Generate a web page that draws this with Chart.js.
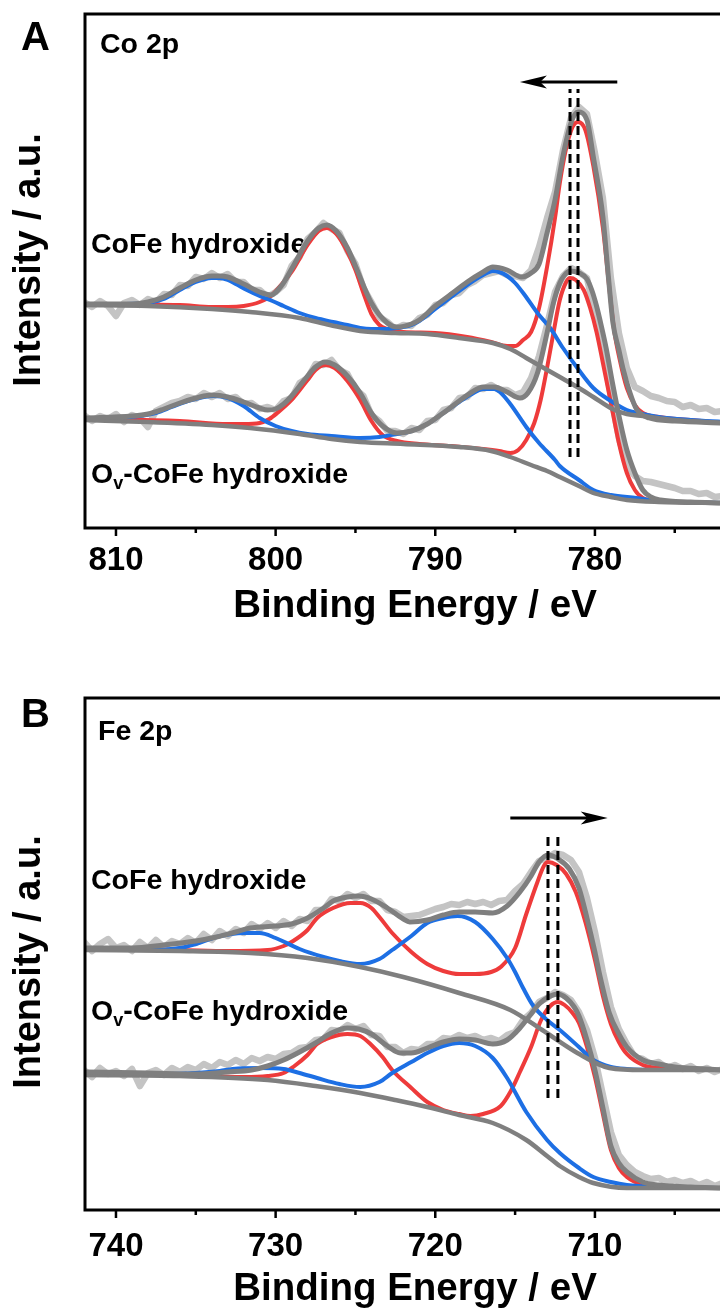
<!DOCTYPE html>
<html>
<head>
<meta charset="utf-8">
<title>XPS Co 2p / Fe 2p</title>
<script src="https://cdn.jsdelivr.net/npm/chart.js@4.4.0/dist/chart.umd.min.js"></script>
<style>
  html, body { margin: 0; padding: 0; background: #fff; overflow: hidden; }
  #page { width: 720px; height: 1313px; overflow: hidden; }
  canvas { display: block; }
</style>
</head>
<body>
<div id="page">
  <canvas id="coChart" width="745" height="650"></canvas>
  <canvas id="feChart" width="745" height="663"></canvas>
</div>
<script>
// -------------------------------
// Co 2p spectra (binding energy in eV, intensity in a.u.)
// -------------------------------
const coGrid = [812, 811.5, 811, 810.5, 810, 809.5, 809, 808.5, 808, 807.5, 807, 806.5, 806, 805.5, 805, 804.5,
  804, 803.5, 803, 802.5, 802, 801.5, 801, 800.5, 800, 799.5, 799, 798.5, 798, 797.5, 797, 796.5, 796, 795.5,
  795, 794.5, 794, 793.5, 793, 792.5, 792, 791.5, 791, 790.5, 790, 789.5, 789, 788.5, 788, 787.5, 787, 786.5,
  786, 785.5, 785, 784.5, 784, 783.5, 783, 782.5, 782, 781.5, 781, 780.5, 780, 779.5, 779, 778.5, 778, 777.5,
  777, 776.5, 776, 775.5, 775, 774.5, 774, 773.5, 773, 772.5, 772];

const coRawCoFe = [226, 221, 227, 222, 212, 225, 228, 223, 229, 226, 234, 233, 243, 242, 251, 249, 255, 250, 254,
  246, 246, 238, 238, 231, 236, 243, 262, 271, 289, 296, 305, 299, 295, 277, 264, 240, 226, 211, 206, 199, 203,
  202, 210, 213, 223, 225, 233, 235, 243, 247, 253, 255, 257, 253, 252, 250, 258, 281, 310, 336, 378, 410, 421,
  414, 375, 330, 250, 195, 160, 141, 137, 132, 130, 127, 126, 121, 123, 119, 120, 116, 117];

const coRawOv = [113, 107, 112, 109, 114, 106, 113, 110, 101, 117, 121, 125, 127, 131, 129, 135, 131, 135, 129,
  131, 124, 125, 119, 121, 118, 127, 130, 145, 150, 164, 163, 168, 158, 154, 139, 132, 113, 107, 97, 97, 94, 100,
  98, 107, 108, 118, 120, 130, 131, 140, 139, 143, 138, 138, 133, 136, 150, 172, 203, 236, 252, 260, 256, 250,
  215, 178, 132, 90, 62, 52, 47, 46, 44, 42, 40, 37, 37, 34, 35, 31, 32];

const coFitCoFe = [[812, 224], [809, 224], [808, 226], [807, 231], [806, 240], [805, 248], [804, 252], [803.5, 252],
  [803, 251], [802, 244], [801, 236], [800.3, 233], [799.6, 243], [799, 259], [798, 287], [797.3, 300], [796.8, 303],
  [796.2, 297], [795.5, 280], [795, 262], [794, 225], [793, 205], [792.4, 201], [791.5, 204], [791, 208], [790, 222],
  [789, 234], [788, 246], [787, 256], [786.4, 261], [785.5, 258], [784.6, 251], [784, 255], [783.5, 264], [783, 295],
  [782.5, 328], [782, 372], [781.5, 405], [781.06, 416], [780.5, 408], [780.1, 371], [779.5, 311], [779.15, 250],
  [778.87, 205], [778.5, 178], [778.25, 160], [777.8, 135], [777.4, 119], [776.6, 110], [775, 107], [772, 105]];

const coBgCoFe = [[812, 223], [808, 222], [804, 219], [801.6, 216], [798.5, 210], [796.6, 203], [794.7, 197],
  [792.5, 195], [790.5, 194], [788.5, 190], [786.4, 185], [785.3, 179], [784.3, 170], [783.2, 160], [782.2, 151],
  [781.1, 141], [780.1, 131], [778.9, 119], [778, 114], [777, 112], [775, 108], [772, 105]];

const coRedCoFe = [[812, 224], [806, 223], [804, 221], [803, 221], [802, 222], [801, 226], [800.3, 232], [799.5, 246],
  [799, 256], [798, 283], [797.3, 297], [796.8, 300], [796.2, 294], [795.5, 276], [795, 258], [794.5, 235], [794, 214],
  [793.5, 203], [793, 199], [792, 196], [790, 195], [788, 191], [786.5, 186], [785.5, 182], [785, 182], [784.5, 188],
  [784, 196], [783.5, 220], [783, 261], [782.5, 310], [782.2, 345], [781.8, 380], [781.4, 401], [781.06, 406],
  [780.6, 398], [780.1, 362], [779.5, 300], [779.1, 240], [778.8, 198], [778.4, 165], [778, 140], [777.5, 123],
  [777, 115], [776, 111], [774, 108], [772, 105]];

const coBlueCoFe = [[812, 224], [810, 224], [808, 225], [807, 229], [806, 238], [805, 246], [804, 250], [803.5, 250],
  [803, 248], [802.5, 244], [801.8, 238], [801, 232], [800.2, 227], [799.5, 222], [798.5, 215], [797.5, 210],
  [796.4, 206], [795.5, 203], [794.7, 200], [794, 199], [793, 199], [792.4, 200], [791.5, 203], [791, 207],
  [790, 219], [789, 231], [788, 243], [787, 253], [786.4, 257], [786, 256], [785.5, 252], [785, 245], [784.4, 233],
  [783.6, 215], [782.8, 200], [782, 180], [781.1, 160], [780.1, 140], [779, 127], [778, 118], [777, 114], [776, 111],
  [774, 108], [772, 106]];

const coFitOv = [[812, 110], [809, 112], [808, 114], [807, 119], [806, 125], [805, 130], [804.5, 132], [803.9, 133],
  [803, 131], [802, 126], [801, 120], [800.5, 118], [800, 119], [799.5, 124], [799, 132], [798.5, 142], [798, 152],
  [797.5, 161], [796.9, 166], [796.3, 163], [795.5, 152], [794.7, 135], [794, 115], [793.3, 102], [792.4, 95],
  [791.5, 97], [790.5, 104], [789.5, 115], [788.5, 127], [787.7, 136], [787, 141], [786.3, 141], [785.5, 136],
  [784.7, 130], [784.2, 135], [783.6, 155], [783, 195], [782.6, 225], [782.2, 245], [781.9, 253], [781.56, 257],
  [781, 255], [780.5, 249], [780.2, 238], [779.9, 222], [779.6, 202], [779.3, 180], [778.9, 145], [778.4, 105],
  [778, 78], [777.5, 55], [777, 38], [776.5, 31], [775.9, 28], [774, 26], [772, 25]];

const coBgOv = [[812, 108], [808, 106], [804, 103], [801.6, 100], [798.5, 94], [796.5, 89], [794.7, 86], [792, 84],
  [788.5, 81], [786.5, 77], [785.3, 71], [784, 63], [783, 57], [782.2, 51], [781, 42], [780.1, 35], [779, 31],
  [778, 28], [776, 26], [772, 25]];

const coRedOv = [[812, 109], [806, 107], [803, 104], [802, 104], [801, 105], [800.4, 109], [799.9, 115], [799, 128],
  [798, 148], [797.5, 158], [796.9, 163], [796.3, 160], [795.5, 147], [794.7, 128], [794, 107], [793.3, 93],
  [792.4, 87], [791, 84], [789, 82], [787, 79], [786, 77], [785.3, 75], [784.8, 78], [784.3, 88], [783.8, 105],
  [783.4, 128], [783, 160], [782.6, 195], [782.2, 228], [781.8, 246], [781.56, 250], [781.2, 248], [780.7, 238],
  [780.3, 220], [779.9, 196], [779.5, 165], [779, 125], [778.5, 85], [778, 55], [777.5, 38], [777, 30], [776, 27],
  [772, 25]];

const coBlueOv = [[812, 109], [810, 110], [808.5, 112], [807.5, 115], [806.5, 121], [805.5, 127], [804.5, 131],
  [803.9, 132], [803, 130], [802, 122], [801, 110], [800, 102], [799, 97], [798, 94], [796.5, 92], [794.7, 90],
  [793.5, 91], [792.4, 94], [791.5, 97], [790.5, 104], [789.5, 115], [788.5, 126], [787.7, 134], [787, 139],
  [786.3, 139], [785.95, 136], [785.3, 124], [784.3, 101], [783.5, 85], [782.5, 68], [782.2, 62], [781, 48],
  [780.1, 38], [779, 33], [777.4, 30], [776, 27], [772, 25]];

const coTickLabels = [780, 790, 800, 810];
const coPeakMarks = [781.56, 781.06];   // Ov-CoFe / CoFe main peak
const coMarkSpan = [71, 439];
const coShift = [778.6, 784.7];         // arrow tail -> head
const coShiftLevel = 446;

// -------------------------------
// Fe 2p spectra
// -------------------------------
const feGrid = [742, 741.5, 741, 740.5, 740, 739.5, 739, 738.5, 738, 737.5, 737, 736.5, 736, 735.5, 735, 734.5,
  734, 733.5, 733, 732.5, 732, 731.5, 731, 730.5, 730, 729.5, 729, 728.5, 728, 727.5, 727, 726.5, 726, 725.5,
  725, 724.5, 724, 723.5, 723, 722.5, 722, 721.5, 721, 720.5, 720, 719.5, 719, 718.5, 718, 717.5, 717, 716.5,
  716, 715.5, 715, 714.5, 714, 713.5, 713, 712.5, 712, 711.5, 711, 710.5, 710, 709.5, 709, 708.5, 708, 707.5,
  707, 706.5, 706, 705.5, 705, 704.5, 704, 703.5, 703, 702.5, 702];

const feRawCoFe = [268, 259, 266, 271, 262, 265, 259, 268, 262, 270, 263, 269, 266, 272, 267, 276, 270, 279, 274,
  281, 277, 286, 281, 287, 282, 289, 284, 291, 289, 300, 300, 311, 309, 316, 312, 316, 309, 309, 300, 298, 293,
  294, 295, 298, 301, 303, 306, 305, 308, 306, 308, 305, 309, 310, 319, 326, 338, 349, 352, 357, 355, 350, 338,
  312, 278, 238, 203, 181, 166, 153, 151, 146, 148, 142, 145, 141, 144, 139, 142, 138, 141];

const feRawOv = [140, 133, 142, 136, 139, 134, 141, 124, 137, 140, 135, 142, 138, 143, 140, 146, 142, 148, 145,
  150, 146, 152, 149, 153, 151, 156, 157, 162, 163, 170, 171, 180, 179, 185, 181, 184, 175, 174, 163, 163, 157,
  161, 160, 166, 166, 172, 171, 175, 172, 174, 170, 172, 169, 175, 178, 190, 197, 208, 212, 218, 215, 210, 198,
  180, 152, 115, 78, 55, 45, 38, 34, 31, 32, 28, 30, 27, 29, 25, 28, 24, 27];

const feFitCoFe = [[742, 262], [739, 262], [737, 265], [735, 269], [733.7, 273], [732.5, 278], [731.6, 282], [730, 284],
  [729, 286], [728, 292], [727, 302], [726.4, 309], [725.5, 313], [724.8, 314], [724, 311], [723, 302], [722, 291],
  [721.6, 288], [720.5, 290], [719.5, 295], [718.5, 298], [717.5, 298], [716.4, 297], [715.5, 304], [714.7, 318],
  [714, 334], [713.5, 348], [712.94, 355], [712.3, 351], [711.6, 341], [711, 322], [710.5, 292], [710, 258],
  [709.7, 235], [709.1, 197], [708.5, 176], [708, 163], [707, 150], [706, 146], [705, 143], [703, 141], [702, 140]];

const feBgCoFe = [[742, 260], [736, 259], [731.6, 257], [728, 252], [724.7, 243], [722, 233], [718.5, 217],
  [715.3, 200], [713.3, 180], [711.1, 157], [709.1, 142], [707, 140], [702, 140]];

const feRedCoFe = [[742, 261], [736, 260], [733, 259], [730.5, 260], [729.5, 264], [728.9, 269], [728, 280],
  [727.4, 292], [726.4, 302], [725.3, 307], [724.7, 307], [724, 302], [723.5, 293], [722.7, 277], [721.5, 258],
  [720.5, 246], [719.5, 239], [718.5, 236], [717.5, 236], [716.5, 238], [715.9, 243], [715, 262], [714.3, 296],
  [713.6, 328], [713.2, 344], [712.94, 348], [712.4, 345], [711.8, 336], [711.2, 318], [710.6, 288], [710, 250],
  [709.5, 214], [709, 186], [708.5, 168], [708, 156], [707, 145], [706, 142], [704, 140], [702, 140]];

const feBlueCoFe = [[742, 260], [738, 260], [736, 262], [735, 266], [733.7, 273], [732, 277], [731, 277], [730, 272],
  [728.5, 261], [727, 253], [726, 249], [724.7, 246], [723.5, 251], [722.7, 260], [721.5, 274], [720.5, 287],
  [719.5, 292], [718.6, 294], [717.5, 288], [716.4, 271], [715.5, 252], [715, 238], [714.5, 222], [713.9, 205],
  [713, 190], [712.2, 180], [711, 163], [710.1, 150], [709, 143], [708, 141], [706, 140], [702, 140]];

const feFitOv = [[742, 138], [738, 137], [735, 136], [733, 138], [731.5, 140], [730.5, 144], [729.5, 150], [728.5, 158],
  [727.5, 167], [726.5, 177], [725.5, 182], [724.8, 181], [724, 176], [723, 164], [722.2, 157], [721.5, 157],
  [720.5, 162], [719.5, 168], [718.5, 171], [717.5, 170], [716.4, 166], [715.5, 170], [714.7, 182], [714, 196],
  [713.5, 206], [712.9, 213], [712.32, 216], [711.8, 212], [711.3, 203], [711, 194], [710.5, 170], [710, 140],
  [709.5, 102], [709, 64], [708.5, 47], [708, 38], [707, 28], [706, 25], [704, 23], [702, 22]];

const feBgOv = [[742, 135], [736, 134], [730.5, 130], [727.5, 124], [724.7, 117], [722.5, 110], [720.5, 103],
  [718.5, 95], [716.4, 87], [714.3, 70], [713, 54], [712.2, 44], [711, 33], [710.1, 27], [708, 22], [702, 22]];

const feRedOv = [[742, 136], [736, 135], [732, 133], [730.5, 134], [729.5, 137], [728.9, 143], [728, 155],
  [727.4, 166], [726.5, 173], [725.5, 176], [724.7, 174], [724, 165], [723.3, 153], [722.7, 140], [721.5, 122],
  [720.5, 108], [719.5, 100], [718.5, 96], [717.8, 94], [717, 96], [715.9, 104], [715.3, 118], [714.7, 138],
  [714, 163], [713.4, 189], [712.8, 204], [712.32, 208], [711.9, 205], [711.4, 197], [711, 187], [710.5, 163],
  [710, 133], [709.5, 96], [709, 60], [708.5, 42], [708, 33], [707, 25], [706, 23], [704, 22], [702, 22]];

const feBlueOv = [[742, 136], [737, 136], [735, 137], [733.5, 139], [732.7, 141], [731, 142], [729.5, 141],
  [728.5, 137], [727.4, 132], [726, 126], [724.7, 123], [723.5, 128], [722.7, 137], [721.5, 148], [720.5, 157],
  [719.5, 164], [718.5, 167], [717.5, 164], [716.4, 152], [715.5, 132], [714.3, 98], [713, 70], [712.2, 57],
  [711, 42], [710.1, 33], [709, 28], [708, 25], [706, 23], [702, 22]];

const feTickLabels = [710, 720, 730, 740];
const fePeakMarks = [712.94, 712.32];   // CoFe / Ov-CoFe main peak
const feMarkSpan = [112, 378];
const feShift = [715.3, 709.2];
const feShiftLevel = 392;

// -------------------------------
// Styles
// -------------------------------
const RAW = "#c4c4c4";
const FIT = "#7f7f7f";
const RED = "#ee3b3b";
const BLUE = "#1d6fe4";
const FONT = "'Liberation Sans', Arial, Helvetica, sans-serif";

Chart.defaults.font.family = FONT;
Chart.defaults.font.weight = "bold";
Chart.defaults.color = "#000";

function curve(data, color, width, order, extra) {
  return Object.assign({
    data: data,
    borderColor: color,
    borderWidth: width,
    pointRadius: 0,
    pointHoverRadius: 0,
    fill: false,
    cubicInterpolationMode: "monotone",
    borderCapStyle: "round",
    borderJoinStyle: "round",
    order: order,
  }, extra || {});
}

function rawSeries(grid, values) {
  return grid.map((e, i) => ({ x: e, y: values[i] }));
}

// frame round the plot and outward ticks (long at labelled values)
const frameTicks = {
  id: "frameTicks",
  afterDraw(chart) {
    const { ctx, chartArea: a, scales: { x } } = chart;
    ctx.save();
    ctx.strokeStyle = "#000";
    ctx.lineWidth = 3;
    ctx.strokeRect(a.left, a.top, a.right - a.left, a.bottom - a.top);
    ctx.lineWidth = 2.5;
    x.ticks.forEach((t) => {
      const v = Math.round(t.value);
      if (Math.abs(t.value - v) > 1e-6 || v % 5 !== 0) return;
      const px = x.getPixelForValue(t.value);
      const len = v % 10 === 0 ? 8 : 5;
      ctx.beginPath();
      ctx.moveTo(px, a.bottom);
      ctx.lineTo(px, a.bottom + len);
      ctx.stroke();
    });
    ctx.restore();
  },
};

// panel letter, core level, sample names and the y title
const panelText = {
  id: "panelText",
  beforeDatasetsDraw(chart, args, opts) {
    const { ctx } = chart;
    ctx.save();
    ctx.fillStyle = "#000";
    ctx.textAlign = "left";
    ctx.textBaseline = "alphabetic";

    ctx.font = "bold 40px " + FONT;
    ctx.fillText(opts.letter, 21, opts.letterY);

    ctx.font = "bold 28.5px " + FONT;
    ctx.fillText(opts.level, opts.levelX, opts.levelY);
    ctx.fillText("CoFe hydroxide", 91, opts.topY);

    // O with subscript v
    let x = 91;
    ctx.fillText("O", x, opts.ovY);
    x += ctx.measureText("O").width;
    ctx.font = "bold 18px " + FONT;
    ctx.fillText("v", x, opts.ovY + 6);
    x += ctx.measureText("v").width;
    ctx.font = "bold 28.5px " + FONT;
    ctx.fillText("-CoFe hydroxide", x, opts.ovY);

    ctx.font = "bold 38px " + FONT;
    ctx.translate(30, opts.yTitleY);
    ctx.rotate(-Math.PI / 2);
    ctx.textAlign = "center";
    ctx.textBaseline = "middle";
    ctx.fillText("Intensity / a.u.", 0, 0);
    ctx.restore();
  },
};

// horizontal shift arrow
const shiftArrow = {
  id: "shiftArrow",
  afterDatasetsDraw(chart, args, opts) {
    const { ctx, scales: { x, y } } = chart;
    const x0 = x.getPixelForValue(opts.from);
    const x1 = x.getPixelForValue(opts.to);
    const py = y.getPixelForValue(opts.level);
    const dir = Math.sign(x1 - x0);
    const head = 27;
    ctx.save();
    ctx.strokeStyle = "#000";
    ctx.fillStyle = "#000";
    ctx.lineWidth = 3;
    ctx.beginPath();
    ctx.moveTo(x0, py);
    ctx.lineTo(x1 - dir * head * 0.6, py);
    ctx.stroke();
    ctx.beginPath();
    ctx.moveTo(x1, py);
    ctx.lineTo(x1 - dir * head, py - 6.5);
    ctx.lineTo(x1 - dir * head * 0.75, py);
    ctx.lineTo(x1 - dir * head, py + 6.5);
    ctx.closePath();
    ctx.fill();
    ctx.restore();
  },
};

function buildPanel(id, p) {
  const datasets = [
    // dashed peak markers on top
    ...p.marks.map((e) => curve([{ x: e, y: p.span[0] }, { x: e, y: p.span[1] }], "#000", 3, 0,
      { borderDash: [9, 5], borderCapStyle: "butt", cubicInterpolationMode: "default", tension: 0 })),
    curve(p.fitTop, FIT, 5, 1),
    curve(p.fitBot, FIT, 5, 1),
    curve(p.bgTop, FIT, 4.5, 2),
    curve(p.bgBot, FIT, 4.5, 2),
    curve(p.blueTop, BLUE, 4, 3),
    curve(p.blueBot, BLUE, 4, 3),
    curve(p.redTop, RED, 4, 4),
    curve(p.redBot, RED, 4, 4),
    curve(rawSeries(p.grid, p.rawTop), RAW, 6.5, 5, { cubicInterpolationMode: "default", tension: 0 }),
    curve(rawSeries(p.grid, p.rawBot), RAW, 6.5, 5, { cubicInterpolationMode: "default", tension: 0 }),
  ];

  return new Chart(document.getElementById(id), {
    type: "line",
    data: { datasets },
    options: {
      responsive: false,
      animation: false,
      devicePixelRatio: 1,
      layout: { autoPadding: false, padding: { top: p.top, left: 85, right: 0, bottom: 0 } },
      plugins: {
        legend: { display: false },
        tooltip: { enabled: false },
        panelText: p.text,
        shiftArrow: p.arrow,
      },
      scales: {
        x: {
          type: "linear",
          reverse: true,
          min: p.xMin,
          max: p.xMax,
          // invisible tick marks only reserve room above the labels
          grid: { display: true, drawOnChartArea: false, drawTicks: true, tickLength: p.tickPad, tickColor: "rgba(0,0,0,0)" },
          border: { display: false },
          ticks: {
            stepSize: 5,
            includeBounds: false,
            autoSkip: false,
            maxRotation: 0,
            padding: 0,
            color: "#000",
            font: { size: 33, weight: "bold", lineHeight: 1 },
            callback: (v) => {
              const r = Math.round(v);
              return Math.abs(v - r) < 1e-6 && p.tickLabels.includes(r) ? String(r) : "";
            },
          },
          title: {
            display: true,
            text: "Binding Energy / eV",
            color: "#000",
            font: { size: 38.5, weight: "bold", lineHeight: 1 },
            padding: { top: 0, bottom: p.titlePad },
          },
          afterFit: (s) => { s.height = p.axisHeight; },
        },
        y: { display: false, min: 0, max: p.yMax },
      },
    },
    plugins: [panelText, shiftArrow, frameTicks],
  });
}

buildPanel("coChart", {
  grid: coGrid, rawTop: coRawCoFe, rawBot: coRawOv,
  fitTop: coFitCoFe, bgTop: coBgCoFe, redTop: coRedCoFe, blueTop: coBlueCoFe,
  fitBot: coFitOv, bgBot: coBgOv, redBot: coRedOv, blueBot: coBlueOv,
  marks: coPeakMarks, span: coMarkSpan, tickLabels: coTickLabels,
  xMin: 770.6, xMax: 811.94, yMax: 514,
  top: 14, axisHeight: 122, tickPad: 16.5, titlePad: 24.5,
  text: { letter: "A", letterY: 50, level: "Co 2p", levelX: 100, levelY: 53, topY: 253, ovY: 483, yTitleY: 260 },
  arrow: { from: coShift[0], to: coShift[1], level: coShiftLevel },
});

buildPanel("feChart", {
  grid: feGrid, rawTop: feRawCoFe, rawBot: feRawOv,
  fitTop: feFitCoFe, bgTop: feBgCoFe, redTop: feRedCoFe, blueTop: feBlueCoFe,
  fitBot: feFitOv, bgBot: feBgOv, redBot: feRedOv, blueBot: feBlueOv,
  marks: fePeakMarks, span: feMarkSpan, tickLabels: feTickLabels,
  xMin: 700.6, xMax: 741.94, yMax: 512,
  top: 48, axisHeight: 103, tickPad: 20, titlePad: 4.5,
  text: { letter: "B", letterY: 77, level: "Fe 2p", levelX: 98, levelY: 90, topY: 239, ovY: 370, yTitleY: 312 },
  arrow: { from: feShift[0], to: feShift[1], level: feShiftLevel },
});
</script>
</body>
</html>
